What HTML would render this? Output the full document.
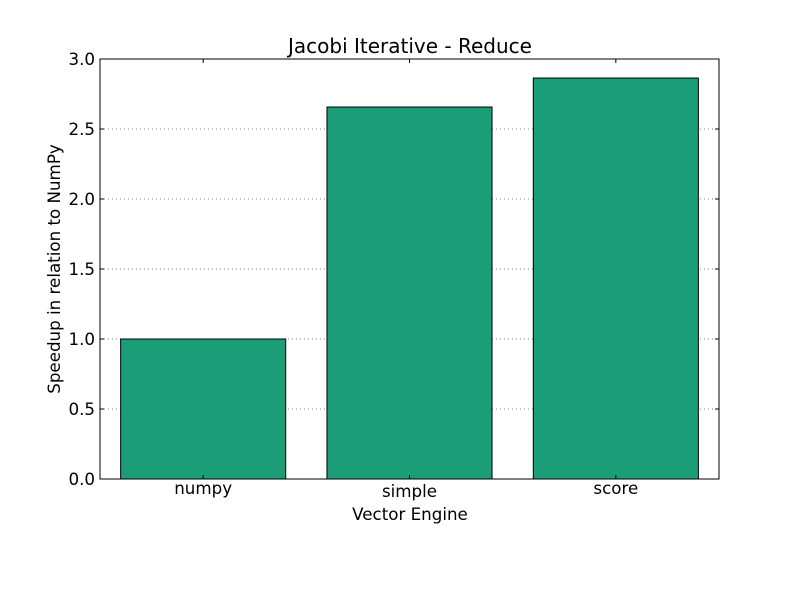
<!DOCTYPE html>
<html><head><meta charset="utf-8"><style>body{margin:0;background:#fff}svg{display:block}text{font-family:"DejaVu Sans","Liberation Sans",sans-serif;fill:#000}</style></head>
<body>
<svg id="chart" width="800" height="600">
<rect width="800" height="600" fill="#fff"/>
<g id="g"></g>
</svg>
<script>
const categories = ["numpy", "simple", "score"];
const speedups = [1.0, 2.657, 2.864];
const yTicks = [0, 0.5, 1.0, 1.5, 2.0, 2.5, 3.0];
const yTickLabels = ["0.0", "0.5", "1.0", "1.5", "2.0", "2.5", "3.0"];

const L = 100, R = 719, T = 59, B = 479;
const yMax = 3;
const y = v => B - v / yMax * (B - T);
const x = v => L + v / categories.length * (R - L);
const NS = "http://www.w3.org/2000/svg";
const g = document.getElementById("g");
function mk(tag, attrs, txt) {
  const e = document.createElementNS(NS, tag);
  for (const k in attrs) e.setAttribute(k, attrs[k]);
  if (txt !== undefined) e.textContent = txt;
  g.appendChild(e);
  return e;
}
yTicks.forEach((t, i) => {
  if (t > 0 && t < yMax) {
    const l = mk("line", {x1: L, x2: R, y1: y(t), y2: y(t), stroke: "#000", "stroke-width": 0.6, "stroke-dasharray": "1,3"});
    
    
  }
});
categories.forEach((c, i) => {
  const x0 = x(i + 0.1), x1 = x(i + 0.9);
  const r = mk("rect", {x: x0, y: y(speedups[i]), width: x1 - x0, height: B - y(speedups[i]), fill: "#1b9e77", stroke: "#000", "stroke-width": 1});
  
  
  const lb = mk("text", {x: x(i + 0.5), y: i === 1 ? 497 : 494, "text-anchor": "middle", "font-size": 16.7}, c);
  
  
  [B, T].forEach((yy, j) => {
    const tk = mk("line", {x1: x(i + 0.5), x2: x(i + 0.5), y1: yy, y2: j ? yy + 4 : yy - 4, stroke: "#000", "stroke-width": 1});
    
    
  });
});
yTicks.forEach((t, i) => {
  const lb = mk("text", {x: L - 5, y: y(t) + 6, "text-anchor": "end", "font-size": 16.7}, yTickLabels[i]);
  
  
  [[L, L + 4], [R, R - 4]].forEach(p => {
    const tk = mk("line", {x1: p[0], x2: p[1], y1: y(t), y2: y(t), stroke: "#000", "stroke-width": 1});
    
    
  });
});
const fr = mk("rect", {x: L, y: T, width: R - L, height: B - T, fill: "none", stroke: "#000", "stroke-width": 1});


const ti = mk("text", {x: 410, y: 53, "text-anchor": "middle", "font-size": 20}, "Jacobi Iterative - Reduce");


const xt = mk("text", {x: 410, y: 520, "text-anchor": "middle", "font-size": 16.7}, "Vector Engine");


const yt = mk("text", {x: 0, y: 0, "text-anchor": "middle", "font-size": 16.7, transform: "translate(60,269) rotate(-90)"}, "Speedup in relation to NumPy");


</script>
</body></html>
